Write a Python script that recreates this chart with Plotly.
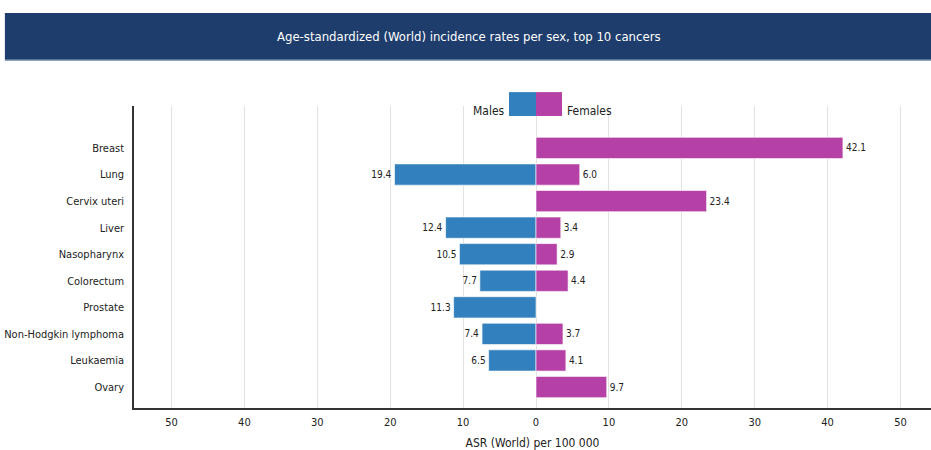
import plotly.graph_objects as go

# Top 10 cancers, age-standardized (World) incidence per 100 000
cancers = ["Breast", "Lung", "Cervix uteri", "Liver", "Nasopharynx",
           "Colorectum", "Prostate", "Non-Hodgkin lymphoma", "Leukaemia", "Ovary"]
males = [None, 19.4, None, 12.4, 10.5, 7.7, 11.3, 7.4, 6.5, None]
females = [42.1, 6.0, 23.4, 3.4, 2.9, 4.4, None, 3.7, 4.1, 9.7]

tick_vals = [-50, -40, -30, -20, -10, 0, 10, 20, 30, 40, 50]
tick_text = [str(abs(v)) for v in tick_vals]

BLUE = "#3280bd"
MAGENTA = "#b540a6"
FONT = "DejaVu Sans Condensed, Roboto, sans-serif"

male_x = [-v if v is not None else None for v in males]
male_txt = [f"{v:.1f}" if v is not None else "" for v in males]
female_txt = [f"{v:.1f}" if v is not None else "" for v in females]

fig = go.Figure()
fig.add_trace(go.Bar(
    y=cancers, x=male_x, orientation="h", name="Males",
    marker=dict(color=BLUE, line=dict(color="rgba(255,255,255,0.6)", width=1)),
    text=male_txt, textposition="outside", cliponaxis=False,
    textfont=dict(size=10, color="#222", family=FONT),
))
fig.add_trace(go.Bar(
    y=cancers, x=females, orientation="h", name="Females",
    marker=dict(color=MAGENTA, line=dict(color="rgba(255,255,255,0.6)", width=1)),
    text=female_txt, textposition="outside", cliponaxis=False,
    textfont=dict(size=10, color="#222", family=FONT),
))

shapes = [
    # title banner
    dict(type="rect", xref="paper", yref="paper", x0=-0.162, x1=1.0,
         y0=1.152, y1=1.308, fillcolor="#1e3d6c", line=dict(width=0), layer="below"),
    dict(type="line", xref="paper", yref="paper", x0=-0.162, x1=1.0,
         y0=1.152, y1=1.152, line=dict(color="#6b86a8", width=1.5)),
    # legend swatches
    dict(type="rect", xref="paper", yref="paper", x0=0.4705, x1=0.5044,
         y0=0.967, y1=1.046, fillcolor=BLUE, line=dict(width=0)),
    dict(type="rect", xref="paper", yref="paper", x0=0.5044, x1=0.5370,
         y0=0.967, y1=1.046, fillcolor=MAGENTA, line=dict(width=0)),
]

annotations = [
    dict(text="Age-standardized (World) incidence rates per sex, top 10 cancers",
         xref="paper", yref="paper", x=0.42, y=1.23, showarrow=False,
         font=dict(size=13, color="white", family=FONT), xanchor="center", yanchor="middle"),
    dict(text="Males", xref="paper", yref="paper", x=0.468, y=0.983, showarrow=False,
         xanchor="right", yanchor="middle", font=dict(size=12, color="#222", family=FONT)),
    dict(text="Females", xref="paper", yref="paper", x=0.541, y=0.983, showarrow=False,
         xanchor="left", yanchor="middle", font=dict(size=12, color="#222", family=FONT)),
]

fig.update_layout(
    width=931, height=450,
    margin=dict(l=134, r=0, t=106, b=42, autoexpand=False),
    paper_bgcolor="white", plot_bgcolor="white",
    barmode="relative", bargap=0.2,
    showlegend=False,
    shapes=shapes, annotations=annotations,
    font=dict(family=FONT, color="#222"),
)
fig.update_xaxes(
    range=[-55.14, 54.18], tickvals=tick_vals, ticktext=tick_text,
    showgrid=True, gridcolor="#e2e2e2", gridwidth=1, zeroline=False,
    showline=True, linecolor="#333", linewidth=1.5,
    tickfont=dict(size=11, family=FONT, color="#222"),
    ticklabelstandoff=3,
    title=dict(text="ASR (World) per 100 000", font=dict(size=12, family=FONT, color="#222"),
               standoff=13),
    automargin=False, fixedrange=True,
)
fig.update_yaxes(
    categoryorder="array", categoryarray=cancers,
    range=[9.79, -1.58],
    showgrid=False, zeroline=False,
    showline=True, linecolor="#333", linewidth=1.5,
    tickfont=dict(size=11, family=FONT, color="#222"),
    ticks="", ticklabelstandoff=6,
    automargin=False, fixedrange=True,
)

fig.write_html("out.html", config={"displayModeBar": False})
